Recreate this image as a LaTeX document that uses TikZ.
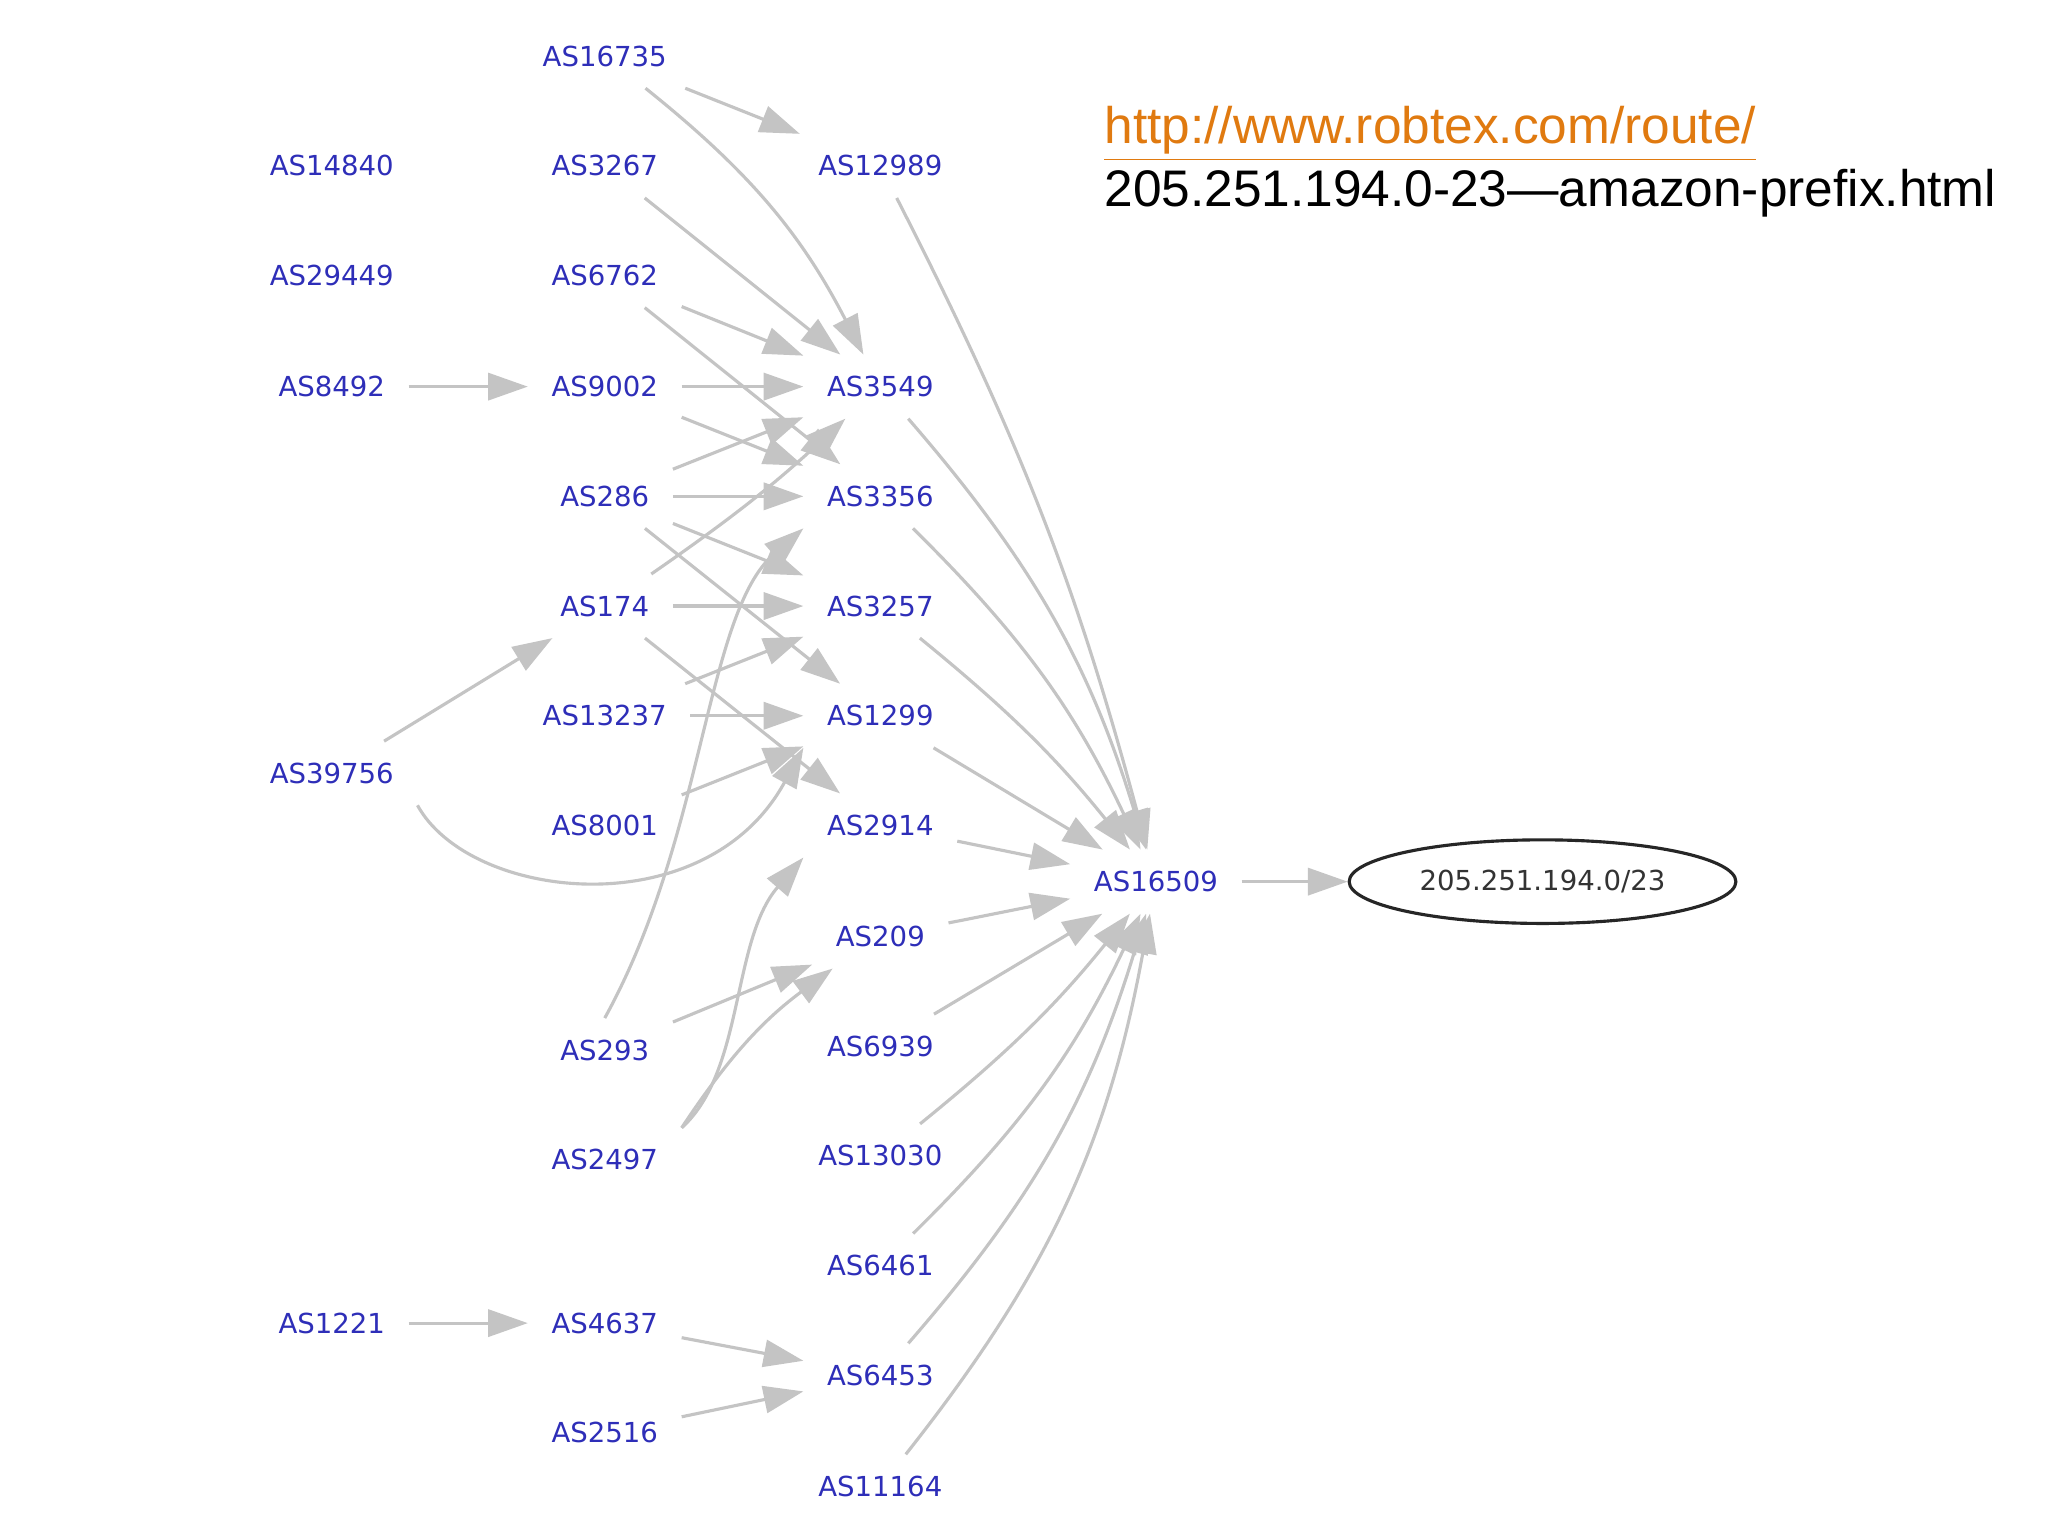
\documentclass[tikz,border=0pt]{standalone}
\usepackage{fontspec}
\setmainfont{Liberation Sans}
\newfontfamily\asfont{DejaVu Sans}
\usetikzlibrary{arrows.meta,shapes.geometric}
\definecolor{asblue}{HTML}{2E2EB8}
\definecolor{edgegray}{HTML}{C4C4C4}
\definecolor{urlorange}{HTML}{E07A10}
\tikzset{
  as/.style={font=\asfont\fontsize{7.5}{9}\selectfont, text=asblue, inner xsep=0.22cm, inner ysep=0.2cm},
  link/.style={draw=edgegray, line width=0.3mm, -{Triangle[length=0.38cm,width=0.26cm]}},
}
\begin{document}
\begin{tikzpicture}[x=0.0125cm,y=-0.0125cm]
\useasboundingbox (0,0) rectangle (1568,1176);
\fill[white] (0,0) rectangle (1568,1176);
\node[as] (a16735) at (463,43) {AS16735};
\node[as] (a14840) at (254,127) {AS14840};
\node[as] (a3267) at (463,127) {AS3267};
\node[as] (a12989) at (674,127) {AS12989};
\node[as] (a29449) at (254,211) {AS29449};
\node[as] (a6762) at (463,211) {AS6762};
\node[as] (a8492) at (254,296) {AS8492};
\node[as] (a9002) at (463,296) {AS9002};
\node[as] (a3549) at (674,296) {AS3549};
\node[as] (a286) at (463,380) {AS286};
\node[as] (a3356) at (674,380) {AS3356};
\node[as] (a174) at (463,464) {AS174};
\node[as] (a3257) at (674,464) {AS3257};
\node[as] (a13237) at (463,548) {AS13237};
\node[as] (a1299) at (674,548) {AS1299};
\node[as] (a39756) at (254,592) {AS39756};
\node[as] (a8001) at (463,632) {AS8001};
\node[as] (a2914) at (674,632) {AS2914};
\node[as] (a16509) at (885,675) {AS16509};
\node[as] (a209) at (674,717) {AS209};
\node[as] (a293) at (463,804) {AS293};
\node[as] (a6939) at (674,801) {AS6939};
\node[as] (a2497) at (463,888) {AS2497};
\node[as] (a13030) at (674,885) {AS13030};
\node[as] (a6461) at (674,969) {AS6461};
\node[as] (a1221) at (254,1013) {AS1221};
\node[as] (a4637) at (463,1013) {AS4637};
\node[as] (a6453) at (674,1053) {AS6453};
\node[as] (a2516) at (463,1097) {AS2516};
\node[as] (a11164) at (674,1138) {AS11164};
\node[draw=black!85, line width=0.3mm, ellipse, minimum width=3.7cm, minimum height=0.8cm,
  font=\asfont\fontsize{7.5}{9}\selectfont, text=black!80] (pfx) at (1181,675) {205.251.194.0/23};
\node[anchor=base west, font=\fontsize{14}{16}\selectfont, text=urlorange, inner sep=0] (url1) at (845,110) {\underline{http://www.robtex.com/route/}};
\node[anchor=base west, font=\fontsize{14}{16}\selectfont, inner sep=0] (url2) at (845,158) {205.251.194.0-23---amazon-prefix.html};
% left part
\draw[link] (a16735) -- (a12989);
\draw[link] (a16735) to[bend left=12] (a3549);
\draw[link] (a3267) -- (a3549);
\draw[link] (a6762) -- (a3549);
\draw[link] (a6762) -- (a3356);
\draw[link] (a8492) -- (a9002);
\draw[link] (a9002) -- (a3549);
\draw[link] (a9002) -- (a3356);
\draw[link] (a286) -- (a3549);
\draw[link] (a286) -- (a3356);
\draw[link] (a286) -- (a3257);
\draw[link] (a286) -- (a1299);
\draw[link] (a174) to[bend right=4] (a3549);
\draw[link] (a174) -- (a3257);
\draw[link] (a174) -- (a2914);
\draw[link] (a13237) -- (a3257);
\draw[link] (a13237) -- (a1299);
\draw[link] (a8001) -- (a1299);
\draw[link] (a39756) -- (a174);
\draw[link] (a39756.south east) .. controls (360,690) and (540,710) .. (a1299.south west);
\draw[link] (a293.north) .. controls (540,640) and (540,470) .. (a3356.south west);
\draw[link] (a293) -- (a209);
\draw[link] (a2497.north east) .. controls (570,820) and (560,720) .. (a2914.south west);
\draw[link] (a2497.north east) to[bend left=10] (a209);
\draw[link] (a1221) -- (a4637);
\draw[link] (a4637) -- (a6453);
\draw[link] (a2516) -- (a6453);
% into AS16509
\draw[link] (a12989) to[bend left=6] (a16509);
\draw[link] (a3549) to[bend left=12] (a16509);
\draw[link] (a3356) to[bend left=10] (a16509);
\draw[link] (a3257) to[bend left=6] (a16509);
\draw[link] (a1299) -- (a16509);
\draw[link] (a2914) -- (a16509);
\draw[link] (a209) -- (a16509);
\draw[link] (a6939) -- (a16509);
\draw[link] (a13030) to[bend right=6] (a16509);
\draw[link] (a6461) to[bend right=10] (a16509);
\draw[link] (a6453) to[bend right=12] (a16509);
\draw[link] (a11164) to[bend right=14] (a16509);
\draw[link] (a16509) -- (pfx);
\end{tikzpicture}
\end{document}
